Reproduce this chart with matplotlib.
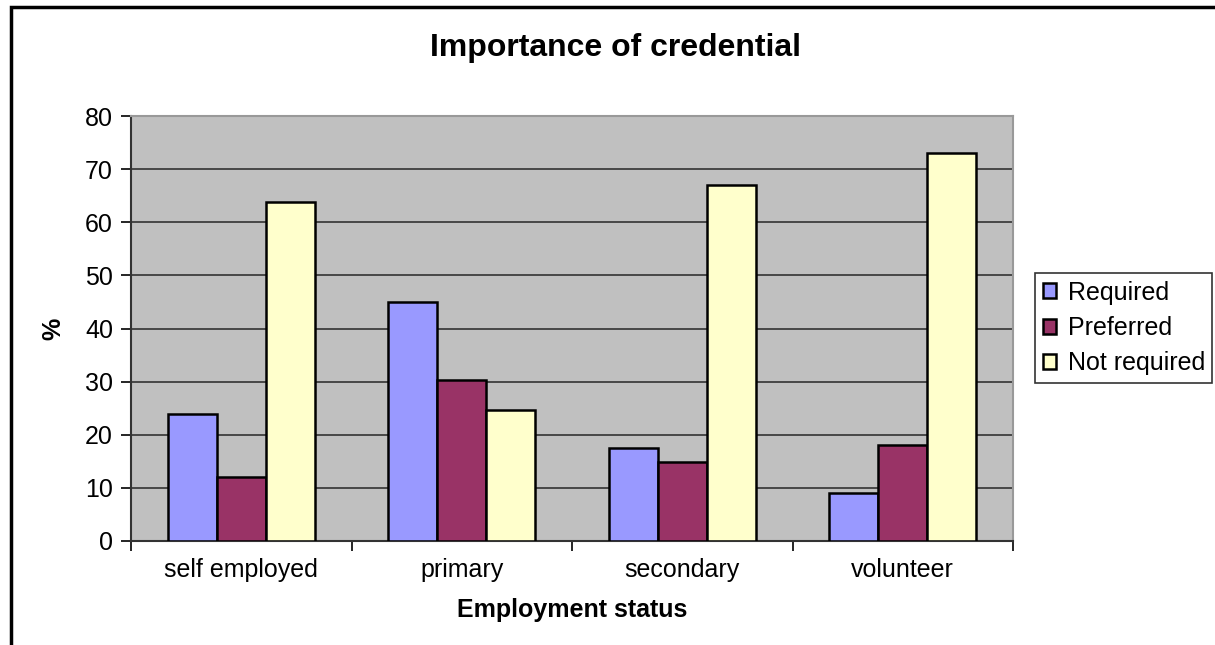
import matplotlib.pyplot as plt
import matplotlib.patches as mpatches
import numpy as np

plt.rcParams['font.family'] = ['Liberation Sans', 'DejaVu Sans']

# Share of respondents (%) by employment status
categories = ['self employed', 'primary', 'secondary', 'volunteer']
required = [24.0, 44.9, 17.6, 9.1]
preferred = [12.0, 30.3, 14.8, 18.0]
not_required = [63.8, 24.6, 67.0, 73.1]
series_names = ['Required', 'Preferred', 'Not required']
colors = ['#9999ff', '#993366', '#ffffcc']

W, H = 1215, 645
fig = plt.figure(figsize=(W / 100, H / 100), dpi=100)
ax = fig.add_axes([131 / W, 1 - 541 / H, (1013 - 131) / W, (541 - 116) / H])

x = np.arange(len(categories))
width = 0.222
for i, vals in enumerate([required, preferred, not_required]):
    ax.bar(x + (i - 1) * width, vals, width, color=colors[i],
           edgecolor='black', linewidth=1.8, label=series_names[i], zorder=3)

ax.set_facecolor('#c0c0c0')
ax.set_xlim(-0.5, 3.5)
ax.set_ylim(0, 80)
ax.set_yticks(np.arange(0, 81, 10))
ax.yaxis.grid(True, color='black', linewidth=1.1, alpha=0.8, zorder=1)
ax.set_axisbelow(True)

# tick marks sit between the categories, labels in the middle
ax.set_xticks(np.arange(-0.5, 4, 1))
ax.set_xticklabels([])
ax.set_xticks(x, minor=True)
ax.set_xticklabels(categories, minor=True, fontsize=18)
ax.tick_params(axis='x', which='minor', length=0, pad=12)
ax.tick_params(axis='x', which='major', direction='out', length=7, width=1.2)
ax.tick_params(axis='y', direction='out', length=7, width=1.2, labelsize=18, pad=6)

for side in ['left', 'bottom']:
    ax.spines[side].set_color('#333333')
    ax.spines[side].set_linewidth(1.5)
for side in ['top', 'right']:
    ax.spines[side].set_color('#999999')
    ax.spines[side].set_linewidth(1.5)

ax.set_xlabel('Employment status', fontsize=18, fontweight='bold', labelpad=12)
ax.set_ylabel('%', fontsize=18, fontweight='bold', labelpad=14)
fig.text(616 / W, 1 - 48 / H, 'Importance of credential', ha='center', va='center',
         fontsize=23, fontweight='bold')

leg = fig.legend(loc='center left', bbox_to_anchor=(1035 / W, 1 - 328 / H),
                 fontsize=18, frameon=True, fancybox=False, edgecolor='black',
                 handlelength=0.55, handleheight=0.55, handletextpad=0.45,
                 labelspacing=0.45, borderpad=0.3, borderaxespad=0)
leg.get_frame().set_linewidth(1.2)

# outer chart border
fig.patches.append(mpatches.Rectangle((11 / W, -0.1), 1.2, 1 - 7 / H + 0.1,
                                      transform=fig.transFigure, fill=False,
                                      edgecolor='black', linewidth=2.5))

fig.savefig('out.png', dpi=100)
